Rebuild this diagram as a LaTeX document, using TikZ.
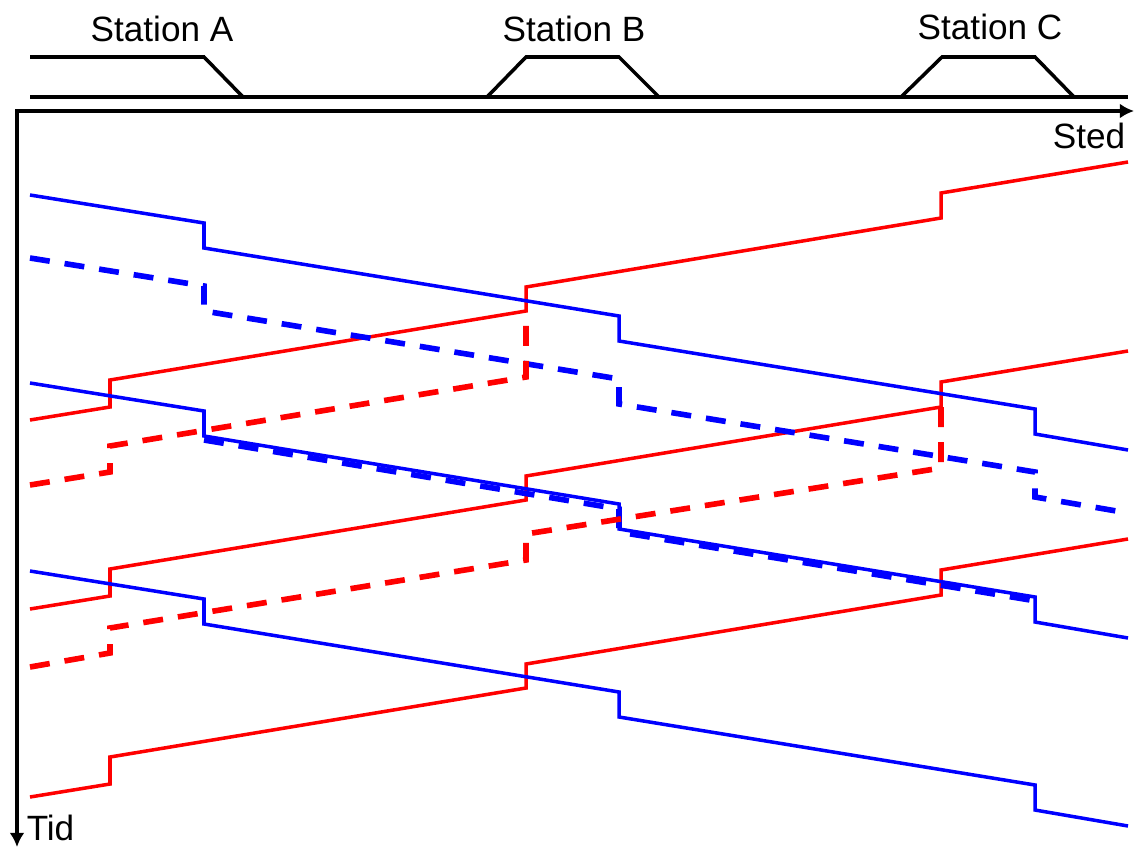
\documentclass[tikz,border=0pt]{standalone}
\usepackage{fontspec}
\setmainfont{Liberation Sans}
\usetikzlibrary{arrows.meta}

\begin{document}
\begin{tikzpicture}[
		x=0.02cm, y=-0.02cm,
		declare function={
			xl=30;   % left end of tracks and trains
			xr=1128; % right end of tracks and trains
			ys=57;   % siding
			yt=97;   % main track
			yo=111;  % time axis origin
			xo=17;
		},
		>={Latex[length=8pt,width=8.4pt]},
		line width=2pt,
		every node/.style={font=\fontsize{20}{24}\selectfont, inner sep=0pt},
		track/.style={black, line width=2pt},
		eastbound/.style={blue, line width=2pt},
		westbound/.style={red, line width=2pt},
		delayed/.style={line width=3.2pt, dash pattern=on 0.4cm off 0.3cm}
		]
		
		\useasboundingbox (0,0) rectangle (1135,848);
		
		% tracks with the three stations
		\draw[track] (xl,yt) -- (xr,yt);
		\draw[track] (xl,ys) -- (204,ys) -- (243,yt);
		\draw[track] (487,yt) -- (526,ys) -- (619,ys) -- (659,yt);
		\draw[track] (901,yt) -- (942,ys) -- (1035,ys) -- (1074,yt);
		
		\node[anchor=base] (staA) at (162,42) {Station A};
		\node[anchor=base] (staB) at (574,42) {Station B};
		\node[anchor=base] (staC) at (990,40) {Station C};
		
		% axes
		\draw[<->] (1134,yo) -- (xo,yo) -- (xo,847);
		\node[anchor=base east] (sted) at (1127,148) {Sted};
		\node[anchor=base west] (tid) at (25,840) {Tid};
		
		% trains
		\foreach \t in {420,609,797} {
			\draw[westbound] (xl,\t) -- (110,\t-13) -- (110,\t-40) -- (526,\t-109) -- (526,\t-133)
				-- (941,\t-202) -- (941,\t-227) -- (xr,\t-258);
		}
		\foreach \t in {195,383,571} {
			\draw[eastbound] (xl,\t) -- (204,\t+28) -- (204,\t+53) -- (619,\t+121) -- (619,\t+146)
				-- (1035,\t+214) -- (1035,\t+239) -- (xr,\t+255);
		}
		
		% delayed trains
		\draw[eastbound, delayed] (xl,258) -- (204,286) -- (204,311) -- (619,379) -- (619,404)
			-- (1035,472) -- (1035,497) -- (xr,513);
		\draw[eastbound, delayed] (204,440) -- (619,509) -- (619,532) -- (1030,600);
		\draw[westbound, delayed] (xl,485) -- (110,472) -- (110,446) -- (526,377) -- (526,311);
		\draw[westbound, delayed] (xl,667) -- (110,653) -- (110,628) -- (526,560) -- (526,534)
			-- (941,468) -- (941,407);
		
	\end{tikzpicture}
\end{document}
